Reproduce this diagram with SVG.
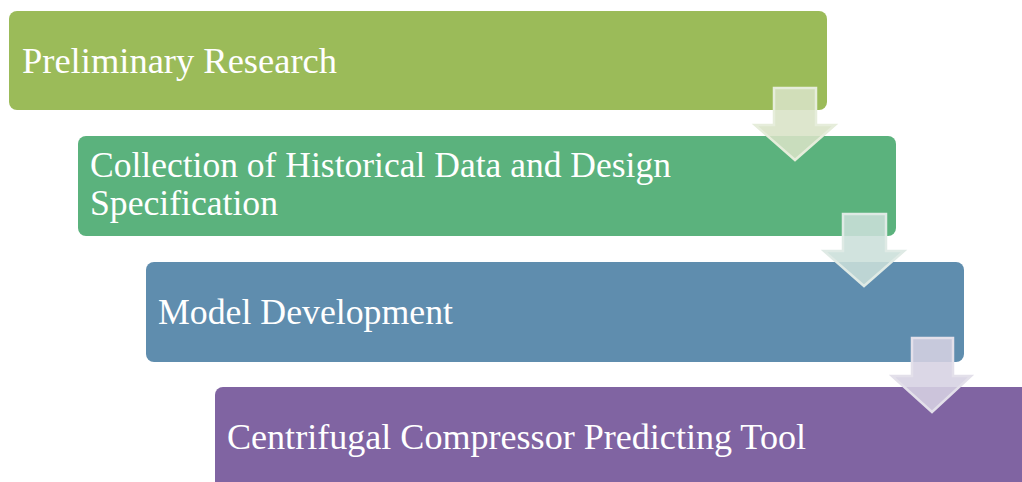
<svg xmlns="http://www.w3.org/2000/svg" width="1022" height="482" viewBox="0 0 1022 482">
  <style>
    .step text { font-family: "Liberation Serif", "DejaVu Serif", serif; font-size: 35px; fill: #ffffff; }
    .arrow { stroke-width: 2.5; stroke-linejoin: miter; }
  </style>
  <rect width="1022" height="482" fill="#ffffff"/>

  <g id="step-preliminary-research" class="step">
    <rect x="9" y="11" width="818" height="99" rx="8" fill="#9bbb59"/>
    <text x="22" y="73" textLength="315" lengthAdjust="spacingAndGlyphs">Preliminary Research</text>
  </g>

  <g id="step-collection" class="step">
    <rect x="78" y="136" width="818" height="100" rx="8" fill="#5bb27d"/>
    <text x="90" y="177" textLength="581" lengthAdjust="spacingAndGlyphs">Collection of Historical Data and Design</text>
    <text x="90" y="215" textLength="188" lengthAdjust="spacingAndGlyphs">Specification</text>
  </g>

  <g id="step-model-development" class="step">
    <rect x="146" y="262" width="818" height="100" rx="8" fill="#5f8dae"/>
    <text x="158" y="324" textLength="295" lengthAdjust="spacingAndGlyphs">Model Development</text>
  </g>

  <g id="step-predicting-tool" class="step">
    <rect x="215" y="387" width="830" height="110" rx="8" fill="#8064a2"/>
    <text x="227" y="449" textLength="579" lengthAdjust="spacingAndGlyphs">Centrifugal Compressor Predicting Tool</text>
  </g>

  <g id="connectors">
    <path class="arrow" d="M774,88 H816 V125 H835 L795,160 L755,125 H774 Z" fill="#d8e3c6" fill-opacity="0.88" stroke="#e6eddb"/>
    <path class="arrow" d="M843,214 H886 V251 H904 L864,286 L824,251 H843 Z" fill="#cbdfd9" fill-opacity="0.88" stroke="#dfeae5"/>
    <path class="arrow" d="M912,338 H953 V376 H971 L932,412 L892,376 H912 Z" fill="#d6d1e2" fill-opacity="0.88" stroke="#e3e0ea"/>
  </g>
</svg>
